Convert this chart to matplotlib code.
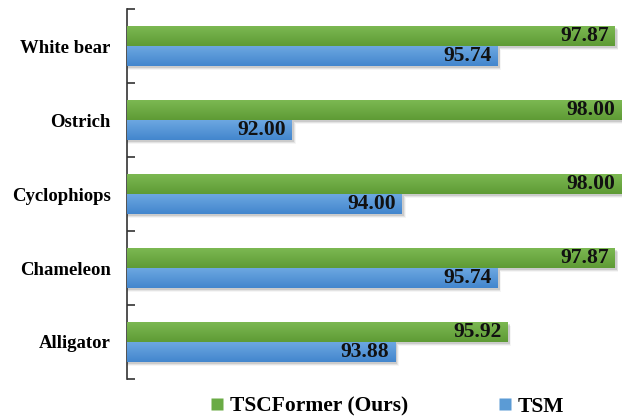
import numpy as np
import matplotlib.pyplot as plt
from matplotlib.colors import LinearSegmentedColormap
from matplotlib.patches import Rectangle
from matplotlib.lines import Line2D

# categories listed bottom to top
classes = ['Alligator', 'Chameleon', 'Cyclophiops', 'Ostrich', 'White bear']
tscformer = [95.92, 97.87, 98.00, 98.00, 97.87]
tsm = [93.88, 95.74, 94.00, 92.00, 95.74]
series_names = ['TSCFormer (Ours)', 'TSM']

plt.rcParams['font.family'] = ['Liberation Serif', 'DejaVu Serif']
plt.rcParams['font.weight'] = 'bold'

fig = plt.figure(figsize=(6.23, 4.16), dpi=100)
ax = fig.add_axes([0.2043, 0.089, 0.7945, 0.889])

xmin, xmax = 89, 98
h = 0.27
y = np.arange(len(classes))

green = LinearSegmentedColormap.from_list('g', ['#5e9b35', '#7cb852'])
blue = LinearSegmentedColormap.from_list('b', ['#4386cd', '#6ca7e1'])
grad = np.linspace(0, 1, 64).reshape(-1, 1)


def draw_bars(vals, offset, cmap):
    bars = ax.barh(y + offset, [v - xmin for v in vals], height=h, left=xmin,
                   color='none', edgecolor='none', zorder=3)
    for b, v in zip(bars, vals):
        x0, y0 = b.get_x(), b.get_y()
        # soft drop shadow
        for k, a in enumerate([0.10, 0.07, 0.04]):
            sh = Rectangle((x0, y0 - 0.025 - k * 0.012), b.get_width() + 0.03 + k * 0.015,
                           h, facecolor='#000000', alpha=a, edgecolor='none', zorder=2)
            ax.add_patch(sh)
        im = ax.imshow(grad, cmap=cmap, aspect='auto', origin='lower',
                       extent=[x0, x0 + b.get_width(), y0, y0 + h], zorder=4)
        im.set_clip_path(b)
        ax.text(v - 0.12, y0 + h / 2, f'{v:.2f}', ha='right', va='center',
                fontsize=15.5, fontweight='bold', color='#111111', zorder=5)


draw_bars(tscformer, h / 2, green)
draw_bars(tsm, -h / 2, blue)

ax.set_xlim(xmin, xmax)
ax.set_ylim(-0.5, len(classes) - 0.5)
ax.set_yticks(y)
ax.set_yticklabels(classes, fontsize=13.5, fontweight='bold')
ax.set_yticks(np.arange(-0.5, len(classes)), minor=True)
ax.tick_params(axis='y', which='major', length=0, pad=12)
ax.tick_params(axis='y', which='minor', direction='in', length=6, width=1.2, color='#333333')
ax.set_xticks([])
for s in ['top', 'right', 'bottom']:
    ax.spines[s].set_visible(False)
ax.spines['left'].set_linewidth(1.2)
ax.spines['left'].set_color('#333333')

handles = [Line2D([], [], marker='s', linestyle='none', markersize=9,
                  markerfacecolor='#6aab45', markeredgecolor='none'),
           Line2D([], [], marker='s', linestyle='none', markersize=9,
                  markerfacecolor='#5b9bd5', markeredgecolor='none')]
fig.legend(handles, series_names, loc='center', bbox_to_anchor=(0.618, 0.022), ncol=2,
           frameon=False, prop={'size': 15.5, 'weight': 'bold'},
           handletextpad=0.1, handlelength=1.0, columnspacing=4.0)

fig.savefig('out.png', dpi=100)
